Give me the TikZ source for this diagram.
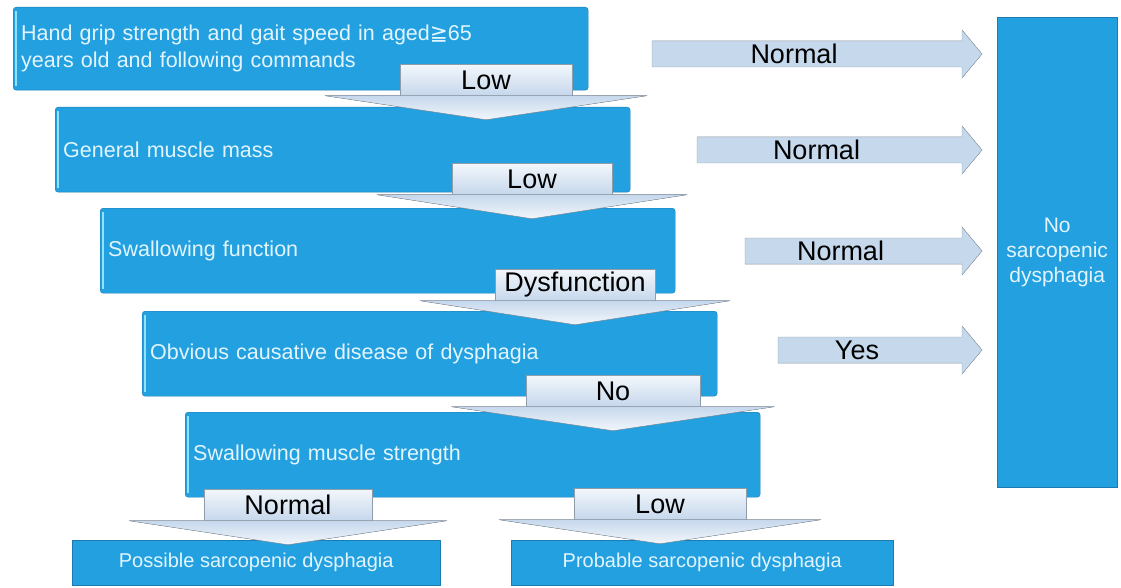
\documentclass[tikz,border=0pt]{standalone}
\usepackage{fontspec}
\setmainfont{Liberation Sans}
\newfontfamily\symbfont{DejaVu Sans}
\usetikzlibrary{calc}

\definecolor{boxblue}{HTML}{23A0DF}
\definecolor{boxedge}{HTML}{1B7CB3}
\definecolor{boxtext}{HTML}{E2F5FF}
\definecolor{bevel}{HTML}{8FE3FF}
\definecolor{cuetop}{HTML}{F2F6FB}
\definecolor{cuebot}{HTML}{C6D8EC}
\definecolor{cueedge}{HTML}{8F9DAB}

\tikzset{
  stage/.style={rectangle, rounded corners=3pt, fill=boxblue, draw=boxedge,
    anchor=north west, inner xsep=8pt, inner ysep=0pt,
    text width=559pt, minimum height=85pt, align=left, text=boxtext,
    font=\fontsize{21.5}{27}\selectfont,
    path picture={\draw[bevel, line width=1.5pt]
      ([shift={(3pt,-4pt)}]path picture bounding box.north west) --
      ([shift={(3pt,4pt)}]path picture bounding box.south west);}},
  result/.style={rectangle, fill=boxblue, draw=boxedge, anchor=north west,
    inner sep=0pt, minimum height=45pt, text=boxtext,
    font=\fontsize{20}{24}\selectfont},
  cue/.style={rectangle, top color=cuetop, bottom color=cuebot, inner sep=0pt,
    minimum height=31pt, font=\fontsize{27}{30}\selectfont},
  head/.style={draw=cueedge, top color=cuebot, bottom color=cuetop},
  flow/.style={draw=cueedge, top color=cuebot, middle color=cuetop!60!white,
    bottom color=cuebot},
  flowtext/.style={font=\fontsize{27}{30}\selectfont}
}

\begin{document}
\begin{tikzpicture}[x=1pt,y=-1pt]
\useasboundingbox (0,0) rectangle (1121,588);

% the screening steps
\node[stage, minimum height=83pt] (grip) at (13,7)
  {Hand grip strength and gait speed in aged{\symbfont ≧}65\\years old and following commands};
\node[stage] (mass) at (55,107) {General muscle mass};
\node[stage] (swallow) at (100,208) {Swallowing function};
\node[stage] (cause) at (142,311) {Obvious causative disease of dysphagia};
\node[stage] (strength) at (185,412) {Swallowing muscle strength};

% outcomes
\node[result, minimum width=368pt] (possible) at (72,540) {Possible sarcopenic dysphagia};
\node[result, minimum width=382pt] (probable) at (511,540) {Probable sarcopenic dysphagia};
\node[result, minimum width=120pt, minimum height=470pt, align=center,
  font=\fontsize{21}{25}\selectfont] (nosd) at (997,17) {No\\sarcopenic\\dysphagia};

% downward arrows with their labels
\foreach \n/\x/\y/\w/\t in {d1/486/80/172/Low, d2/532/179/160/Low,
    d3/575/285/160/Dysfunction, d4/613/391/173/No,
    d5/288/505/168/Normal, d6/660/504/172/Low}{
  \node[cue, minimum width=\w pt] (\n) at (\x,\y) {\t};
  \filldraw[head] (\n.south west) -- ++(-75,0) -- ($(\n.south)+(0,24)$)
    -- ($(\n.south east)+(75,0)$) -- (\n.south east);
  \draw[cueedge] (\n.south west) -- (\n.north west) -- (\n.north east) -- (\n.south east);
}

% arrows to the right
\foreach \n/\x/\y/\t in {r1/652/54/Normal, r2/697/150/Normal,
    r3/745/251/Normal, r4/778/350/Yes}{
  \coordinate (\n tail) at (\x,\y);
  \coordinate (\n tip) at ($(nosd.west |- \n tail)+(-15,0)$);
  \filldraw[flow] ($(\n tail)+(0,-13)$) -- ($(\n tip)+(-20,-13)$)
    -- ($(\n tip)+(-20,-24)$) -- (\n tip) -- ($(\n tip)+(-20,24)$)
    -- ($(\n tip)+(-20,13)$) -- ($(\n tail)+(0,13)$) -- cycle;
  \node[flowtext] (\n) at ($(\n tail)!0.5!(\n tip)+(-23,0)$) {\t};
}
\end{tikzpicture}
\end{document}
